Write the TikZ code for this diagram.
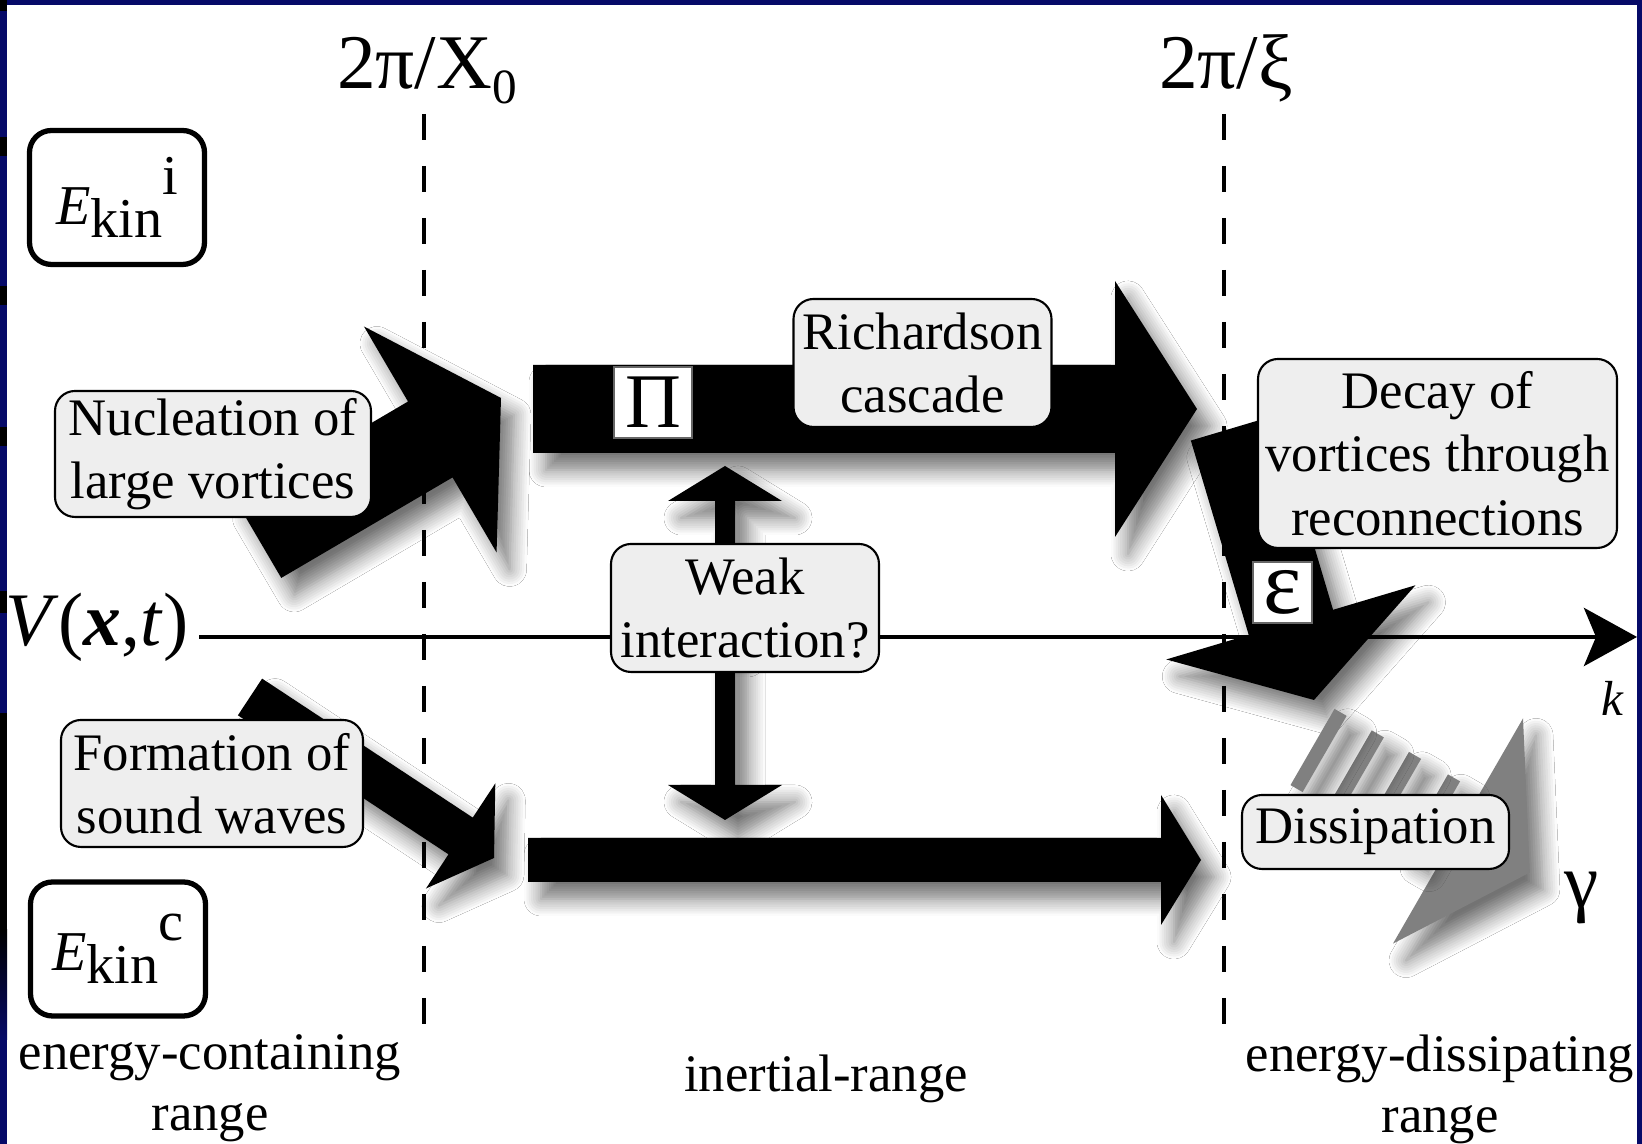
\documentclass[tikz,border=0pt]{standalone}
\usepackage{fontspec}
\setmainfont{Liberation Serif}
\usetikzlibrary{arrows.meta,calc,shadows.blur}

\definecolor{slidenavy}{RGB}{6,10,104}
\definecolor{boxgray}{RGB}{238,238,238}
\definecolor{dissgray}{RGB}{128,128,128}

\tikzset{
  labelbox/.style={draw, fill=boxgray, rounded corners=0.2cm, line width=0.6pt,
    align=center, inner sep=0pt, font=\fontsize{15}{18}\selectfont},
  energybox/.style={draw, fill=white, rounded corners=0.22cm, line width=1.5pt,
    inner sep=0pt, minimum width=1.75cm, minimum height=1.34cm},
  fluxbox/.style={draw=black!60, fill=white, line width=0.4pt, inner sep=0pt},
  rangelabel/.style={align=center, inner sep=0pt, font=\fontsize{15}{17.4}\selectfont},
  scalelabel/.style={inner sep=0pt, font=\fontsize{22}{26}\selectfont},
  cutline/.style={dash pattern=on 0.26cm off 0.26cm, line width=1.1pt},
  axisline/.style={line width=1.4pt, -{Stealth[length=0.53cm,width=0.58cm,inset=0.12cm]}},
  softshadow/.style={blur shadow={shadow xshift=0.13cm, shadow yshift=-0.17cm,
    shadow blur radius=0.17cm, shadow blur steps=8, shadow blur extra rounding=0pt,
    shadow opacity=55}},
}

% E_kin with the index set at full size
\newcommand{\ekin}[1]{{\fontsize{16}{16}\selectfont\textit{E}\raisebox{-0.13cm}{kin}\raisebox{0.3cm}{#1}}}

% broad arrow: [style]{tail}{tip}{shaft half width}{head half width}{head length}
\newcommand{\fatarrow}[6][]{%
  \coordinate (fa-base) at ($(#3)!#6!(#2)$);
  \fill[softshadow,#1] ($(#2)!#4!90:(#3)$) -- ($(fa-base)!#4!-90:(#2)$)
    -- ($(fa-base)!#5!-90:(#2)$) -- (#3) -- ($(fa-base)!#5!90:(#2)$)
    -- ($(fa-base)!#4!90:(#2)$) -- ($(#2)!#4!-90:(#3)$) -- cycle;
}

\begin{document}
\begin{tikzpicture}
    \useasboundingbox (0,0) rectangle (16.42,11.44);
    \fill[white] (0,0) rectangle (16.42,11.44);

    % slide frame
    \fill[slidenavy] (0,0) rectangle (0.07,11.44);
    \fill[slidenavy] (0,11.39) rectangle (16.42,11.44);
    \fill[slidenavy] (16.37,0) rectangle (16.42,11.44);
    \foreach \ya/\yb in {11.44/11.33, 10.07/9.88, 8.58/8.39, 7.17/6.98, 5.53/5.31, 4.31/2.14}
        \fill[black] (0,\ya) rectangle (0.07,\yb);
    \shade[top color=black, bottom color=slidenavy] (0,2.14) rectangle (0.07,1.04);

    % scale separations
    \coordinate (cut-x0-top) at (4.24,10.30);
    \coordinate (cut-x0-bot) at (4.24,1.16);
    \coordinate (cut-xi-top) at (12.24,10.30);
    \coordinate (cut-xi-bot) at (12.24,1.16);
    \draw[cutline] (cut-x0-top) -- (cut-x0-bot);
    \draw[cutline] (cut-xi-top) -- (cut-xi-bot);
    \node[scalelabel, anchor=base] (lbl-x0) at (4.27,10.55) {2π/X\raisebox{-0.15cm}{\fontsize{14}{14}\selectfont 0}};
    \node[scalelabel, anchor=base] (lbl-xi) at (12.26,10.55) {2π/ξ};

    % wavenumber axis
    \node[scalelabel, font=\fontsize{21.5}{26}\selectfont, anchor=mid east] (field) at (1.89,5.07) {\textit{V}(\textbf{\textit{x}},\textit{t})};
    \coordinate (k-end) at (16.37,5.07);
    \draw[axisline] ([xshift=0.10cm]field.mid east) -- (k-end);
    \node[font=\fontsize{14}{14}\selectfont] (wavenum) at (16.13,4.46) {\textit{k}};

    % energy flow
    \coordinate (nuc-tail) at (2.59,6.04);
    \coordinate (nuc-tip) at (5.01,7.46);
    \coordinate (casc-tail) at (5.33,7.35);
    \coordinate (casc-tip) at (11.97,7.35);
    \coordinate (snd-tail) at (2.50,4.47);
    \coordinate (snd-tip) at (4.94,2.86);
    \coordinate (wave-tail) at (5.28,2.84);
    \coordinate (wave-tip) at (12.01,2.84);
    \coordinate (rec-tail) at (12.33,7.16);
    \coordinate (rec-tip) at (13.14,4.44);
    \coordinate (weak-mid) at (7.25,5.01);
    \coordinate (weak-up) at (7.25,6.78);
    \coordinate (weak-down) at (7.25,3.24);

    \fatarrow{nuc-tail}{nuc-tip}{0.44cm}{1.31cm}{0.82cm}
    \fatarrow{casc-tail}{casc-tip}{0.44cm}{1.28cm}{0.82cm}
    \fatarrow{rec-tail}{rec-tip}{0.44cm}{1.30cm}{0.81cm}
    \fatarrow{snd-tail}{snd-tip}{0.22cm}{0.63cm}{0.40cm}
    \fatarrow{wave-tail}{wave-tip}{0.22cm}{0.65cm}{0.40cm}
    \fatarrow{weak-mid}{weak-up}{0.10cm}{0.57cm}{0.35cm}
    \fatarrow{weak-mid}{weak-down}{0.10cm}{0.57cm}{0.35cm}

    % dissipation arrow with broken shaft
    \begin{scope}[shift={(14.58,3.13)}, rotate=-30]
        \fill[dissgray, softshadow] (0,1.30) -- (0.83,0) -- (0,-1.30) -- cycle;
        \foreach \d in {0.30,0.75,1.18,1.61}
            \fill[dissgray, softshadow] (-\d-0.07,-0.44) rectangle (-\d+0.07,0.44);
    \end{scope}
    \node[scalelabel, anchor=base] (damping) at (15.82,2.36) {γ};

    % flux symbols
    \node[fluxbox, scalelabel, minimum width=0.78cm, minimum height=0.71cm] (flux-pi) at (6.53,7.415) {Π};
    \node[fluxbox, font=\fontsize{26}{26}\selectfont, minimum width=0.59cm, minimum height=0.61cm] (flux-eps) at (12.825,5.515) {ε};

    % processes
    \node[labelbox, minimum width=3.16cm, minimum height=1.26cm] (nucleation) at (2.13,6.90) {Nucleation of\\large vortices};
    \node[labelbox, minimum width=3.02cm, minimum height=1.27cm] (formation) at (2.12,3.605) {Formation of\\sound waves};
    \node[labelbox, minimum width=2.58cm, minimum height=1.28cm] (richardson) at (9.225,7.81) {Richardson\\cascade};
    \node[labelbox, minimum width=2.68cm, minimum height=1.28cm] (weak) at (7.45,5.36) {Weak\\interaction?};
    \node[labelbox, minimum width=3.59cm, minimum height=1.89cm] (decay) at (14.375,6.905) {Decay of\\vortices through\\reconnections};
    \node[labelbox, minimum width=2.67cm, minimum height=0.74cm] (dissipation) at (13.755,3.12) {Dissipation};

    % energies
    \node[energybox] (ekin-i) at (1.17,9.465) {\ekin{i}};
    \node[energybox] (ekin-c) at (1.18,1.95) {\ekin{c}};

    % ranges
    \node[rangelabel, anchor=north] (range-contain) at (2.10,1.10) {energy-containing\\range};
    \node[rangelabel, anchor=base] (range-inertial) at (8.26,0.52) {inertial-range};
    \node[rangelabel, anchor=north] (range-dissip) at (14.40,1.10) {energy-dissipating\\range};
\end{tikzpicture}
\end{document}
